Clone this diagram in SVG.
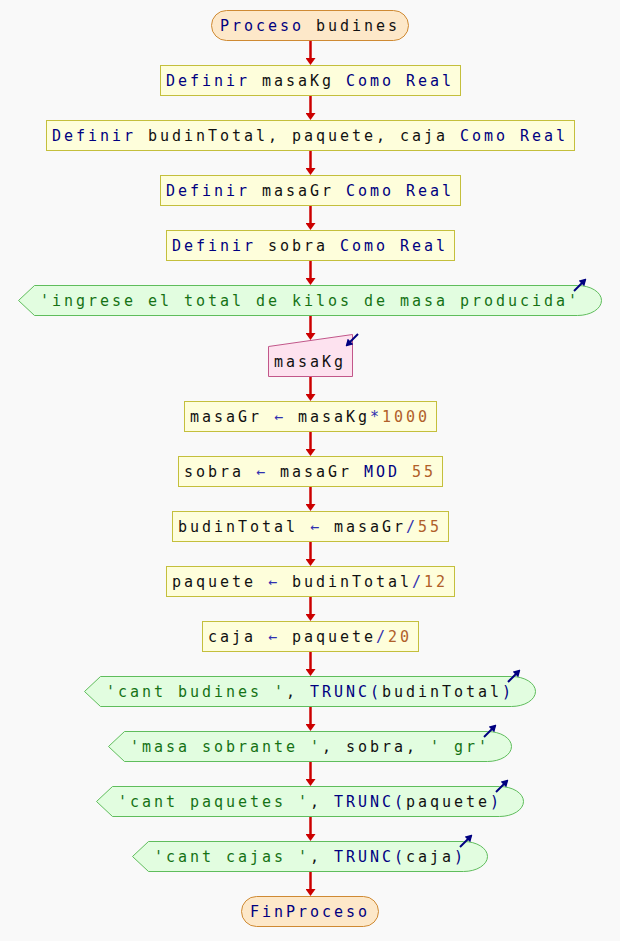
<svg xmlns="http://www.w3.org/2000/svg" width="620" height="941" viewBox="0 0 620 941">
<defs>
<marker id="ah" markerUnits="userSpaceOnUse" viewBox="0 0 7 10" markerWidth="7" markerHeight="10" refX="1" refY="5" orient="auto"><path d="M0,0 L7,5 L0,10 Z" fill="#cc0000"/></marker>
<marker id="ih" markerUnits="userSpaceOnUse" viewBox="0 0 7 8" markerWidth="7" markerHeight="8" refX="5" refY="4" orient="auto"><path d="M0,0 L7,4 L0,8 Z" fill="#000080"/></marker>
</defs>
<style>
text{font-family:"DejaVu Sans Mono","Liberation Mono",monospace;font-size:15px;letter-spacing:2.97px;fill:#111111;white-space:pre}
.term{fill:#fde8c9;stroke:#cf8a33;stroke-width:1}
.proc{fill:#fefedb;stroke:#c4bf3c;stroke-width:1}
.out{fill:#e2fde0;stroke:#5fbd5c;stroke-width:1}
.in{fill:#fde2ef;stroke:#c2578a;stroke-width:1}
.con line{stroke:#cc0000;stroke-width:2.5;marker-end:url(#ah)}
.icon{stroke:#000080;stroke-width:2;marker-end:url(#ih)}
.k{fill:#000080}
.s{fill:#157215}
.n{fill:#b0602a}
.o{fill:#3030b0}
</style>
<rect width="620" height="941" fill="#f9f9f9"/>
<g id="connectors" class="con">
<line x1="310.5" y1="40.5" x2="310.5" y2="59"/>
<line x1="310.5" y1="95.5" x2="310.5" y2="114"/>
<line x1="310.5" y1="150.5" x2="310.5" y2="169"/>
<line x1="310.5" y1="205.5" x2="310.5" y2="224"/>
<line x1="310.5" y1="260.5" x2="310.5" y2="279"/>
<line x1="310.5" y1="315.5" x2="310.5" y2="334"/>
<line x1="310.5" y1="376.5" x2="310.5" y2="395"/>
<line x1="310.5" y1="431.5" x2="310.5" y2="450"/>
<line x1="310.5" y1="486.5" x2="310.5" y2="505"/>
<line x1="310.5" y1="541.5" x2="310.5" y2="560"/>
<line x1="310.5" y1="596.5" x2="310.5" y2="615"/>
<line x1="310.5" y1="651.5" x2="310.5" y2="670"/>
<line x1="310.5" y1="706.5" x2="310.5" y2="725"/>
<line x1="310.5" y1="761.5" x2="310.5" y2="780"/>
<line x1="310.5" y1="816.5" x2="310.5" y2="835"/>
<line x1="310.5" y1="871.5" x2="310.5" y2="890"/>
</g>
<g id="start">
<rect class="term" x="211.5" y="10.5" width="197" height="30" rx="15"/>
<text x="220" y="31"><tspan class="k">Proceso</tspan> budines</text>
</g>
<g id="def1">
<rect class="proc" x="160.5" y="65.5" width="300" height="30"/>
<text x="166" y="86"><tspan class="k">Definir</tspan> masaKg <tspan class="k">Como</tspan> <tspan class="k">Real</tspan></text>
</g>
<g id="def2">
<rect class="proc" x="46.5" y="120.5" width="528" height="30"/>
<text x="52" y="141"><tspan class="k">Definir</tspan> budinTotal, paquete, caja <tspan class="k">Como</tspan> <tspan class="k">Real</tspan></text>
</g>
<g id="def3">
<rect class="proc" x="160.5" y="175.5" width="300" height="30"/>
<text x="166" y="196"><tspan class="k">Definir</tspan> masaGr <tspan class="k">Como</tspan> <tspan class="k">Real</tspan></text>
</g>
<g id="def4">
<rect class="proc" x="166.5" y="230.5" width="288" height="30"/>
<text x="172" y="251"><tspan class="k">Definir</tspan> sobra <tspan class="k">Como</tspan> <tspan class="k">Real</tspan></text>
</g>
<g id="out1">
<path class="out" d="M18.5,300.5 L34.5,285.5 L577.5,285.5 A24,15 0 0 1 577.5,315.5 L34.5,315.5 Z"/>
<text x="40" y="306" class="s">'ingrese el total de kilos de masa producida'</text>
<line class="icon" x1="574" y1="291" x2="585" y2="280"/>
</g>
<g id="in1">
<path class="in" d="M268.5,346.5 L352.5,334.5 L352.5,376.5 L268.5,376.5 Z"/>
<text x="274" y="367">masaKg</text>
<line class="icon" x1="358" y1="334" x2="347" y2="345"/>
</g>
<g id="asig1">
<rect class="proc" x="184.5" y="401.5" width="252" height="30"/>
<text x="190" y="422">masaGr <tspan class="o">←</tspan> masaKg<tspan class="o">*</tspan><tspan class="n">1000</tspan></text>
</g>
<g id="asig2">
<rect class="proc" x="178.5" y="456.5" width="264" height="30"/>
<text x="184" y="477">sobra <tspan class="o">←</tspan> masaGr <tspan class="k">MOD</tspan> <tspan class="n">55</tspan></text>
</g>
<g id="asig3">
<rect class="proc" x="172.5" y="511.5" width="276" height="30"/>
<text x="178" y="532">budinTotal <tspan class="o">←</tspan> masaGr<tspan class="o">/</tspan><tspan class="n">55</tspan></text>
</g>
<g id="asig4">
<rect class="proc" x="166.5" y="566.5" width="288" height="30"/>
<text x="172" y="587">paquete <tspan class="o">←</tspan> budinTotal<tspan class="o">/</tspan><tspan class="n">12</tspan></text>
</g>
<g id="asig5">
<rect class="proc" x="202.5" y="621.5" width="216" height="30"/>
<text x="208" y="642">caja <tspan class="o">←</tspan> paquete<tspan class="o">/</tspan><tspan class="n">20</tspan></text>
</g>
<g id="out2">
<path class="out" d="M84.5,691.5 L100.5,676.5 L511.5,676.5 A24,15 0 0 1 511.5,706.5 L100.5,706.5 Z"/>
<text x="106" y="697"><tspan class="s">'cant budines '</tspan>, <tspan class="k">TRUNC(</tspan>budinTotal<tspan class="k">)</tspan></text>
<line class="icon" x1="508" y1="682" x2="519" y2="671"/>
</g>
<g id="out3">
<path class="out" d="M108.5,746.5 L124.5,731.5 L487.5,731.5 A24,15 0 0 1 487.5,761.5 L124.5,761.5 Z"/>
<text x="130" y="752"><tspan class="s">'masa sobrante '</tspan>, sobra, <tspan class="s">' gr'</tspan></text>
<line class="icon" x1="484" y1="737" x2="495" y2="726"/>
</g>
<g id="out4">
<path class="out" d="M96.5,801.5 L112.5,786.5 L499.5,786.5 A24,15 0 0 1 499.5,816.5 L112.5,816.5 Z"/>
<text x="118" y="807"><tspan class="s">'cant paquetes '</tspan>, <tspan class="k">TRUNC(</tspan>paquete<tspan class="k">)</tspan></text>
<line class="icon" x1="496" y1="792" x2="507" y2="781"/>
</g>
<g id="out5">
<path class="out" d="M132.5,856.5 L148.5,841.5 L463.5,841.5 A24,15 0 0 1 463.5,871.5 L148.5,871.5 Z"/>
<text x="154" y="862"><tspan class="s">'cant cajas '</tspan>, <tspan class="k">TRUNC(</tspan>caja<tspan class="k">)</tspan></text>
<line class="icon" x1="460" y1="847" x2="471" y2="836"/>
</g>
<g id="end">
<rect class="term" x="241.5" y="896.5" width="137" height="30" rx="15"/>
<text x="250" y="917"><tspan class="k">FinProceso</tspan></text>
</g>
</svg>
